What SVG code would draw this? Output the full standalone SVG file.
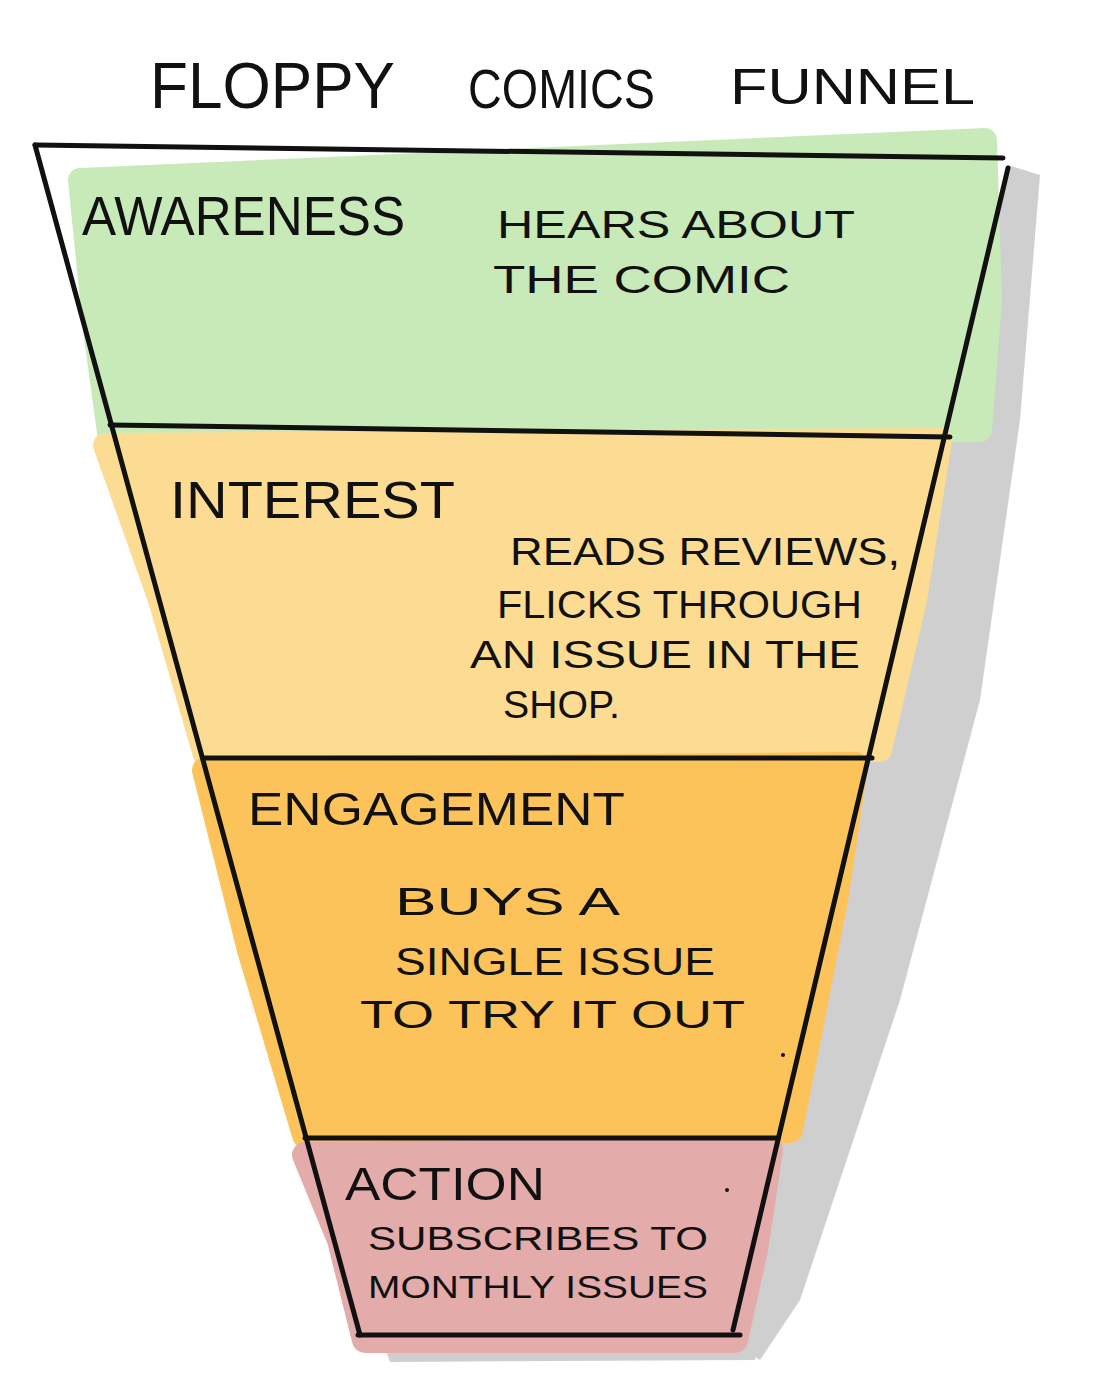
<svg xmlns="http://www.w3.org/2000/svg" width="1098" height="1396" viewBox="0 0 1098 1396">
<style>
.ink{fill:none;stroke:#111;stroke-width:5;stroke-linecap:round;stroke-linejoin:round}
.t{font-family:"Liberation Sans",Arial,sans-serif;fill:#111}
.h{font-size:56px}
.d{font-size:38px}
.blob{stroke-linejoin:round;stroke-linecap:round}
</style>
<rect width="1098" height="1396" fill="#fff"/>
<g id="shadow">
<polygon points="1008,165 1040,175 1020,420 980,700 900,1000 800,1300 760,1360 735,1345 733,1330" fill="#cfcfcf"/>
<polygon points="380,1335 760,1330 755,1360 390,1362" fill="#cfcfcf"/>
</g>
<g id="title">
<text class="t" x="150" y="108" font-size="64" textLength="245" lengthAdjust="spacingAndGlyphs">FLOPPY</text>
<text class="t" x="468" y="108" font-size="56" textLength="187" lengthAdjust="spacingAndGlyphs">COMICS</text>
<text class="t" x="730" y="104" font-size="50" textLength="245" lengthAdjust="spacingAndGlyphs">FUNNEL</text>
</g>
<g id="awareness">
<polygon class="blob" points="80,180 985,140 990,300 980,430 110,440 95,330" fill="#c8eab8" stroke="#c8eab8" stroke-width="24"/>
<text class="t h" x="82" y="235" textLength="323" lengthAdjust="spacingAndGlyphs">AWARENESS</text>
<text class="t d" x="497" y="238" textLength="358" lengthAdjust="spacingAndGlyphs">HEARS ABOUT</text>
<text class="t d" x="493" y="293" textLength="297" lengthAdjust="spacingAndGlyphs">THE COMIC</text>
</g>
<g id="interest">
<polygon class="blob" points="105,445 940,440 915,600 880,750 205,755 160,600" fill="#fcdc92" stroke="#fcdc92" stroke-width="24"/>
<text class="t" x="170" y="518" font-size="52" textLength="285" lengthAdjust="spacingAndGlyphs">INTEREST</text>
<text class="t d" x="510" y="565" textLength="390" lengthAdjust="spacingAndGlyphs">READS REVIEWS,</text>
<text class="t d" x="497" y="618" textLength="365" lengthAdjust="spacingAndGlyphs">FLICKS THROUGH</text>
<text class="t d" x="470" y="668" textLength="390" lengthAdjust="spacingAndGlyphs">AN ISSUE IN THE</text>
<text class="t d" x="503" y="718" textLength="117" lengthAdjust="spacingAndGlyphs">SHOP.</text>
</g>
<g id="engagement">
<polygon class="blob" points="205,770 855,765 835,900 790,1130 305,1135 250,950" fill="#fbc35a" stroke="#fbc35a" stroke-width="26"/>
<text class="t" x="248" y="825" font-size="46" textLength="377" lengthAdjust="spacingAndGlyphs">ENGAGEMENT</text>
<text class="t d" x="395" y="915" textLength="225" lengthAdjust="spacingAndGlyphs">BUYS A</text>
<text class="t d" x="395" y="975" textLength="320" lengthAdjust="spacingAndGlyphs">SINGLE ISSUE</text>
<text class="t d" x="360" y="1028" textLength="385" lengthAdjust="spacingAndGlyphs">TO TRY IT OUT</text>
<circle cx="783" cy="1055" r="2" fill="#111"/>
</g>
<g id="action">
<polygon class="blob" points="305,1155 770,1150 755,1250 735,1340 365,1340 340,1240" fill="#e3acab" stroke="#e3acab" stroke-width="26"/>
<text class="t" x="345" y="1200" font-size="46" textLength="200" lengthAdjust="spacingAndGlyphs">ACTION</text>
<text class="t" x="368" y="1250" font-size="34" textLength="340" lengthAdjust="spacingAndGlyphs">SUBSCRIBES TO</text>
<text class="t" x="368" y="1298" font-size="32" textLength="340" lengthAdjust="spacingAndGlyphs">MONTHLY ISSUES</text>
<circle cx="727" cy="1190" r="2" fill="#111"/>
</g>
<g id="connectors">
<path class="ink" d="M35,145 L1003,158"/>
<path class="ink" d="M35,145 L360,1335"/>
<path class="ink" d="M1008,168 L733,1330"/>
<path class="ink" d="M110,425 L950,437"/>
<path class="ink" d="M205,758 L872,758"/>
<path class="ink" d="M305,1138 L778,1138"/>
<path class="ink" d="M358,1335 L740,1335"/>
</g>
</svg>
